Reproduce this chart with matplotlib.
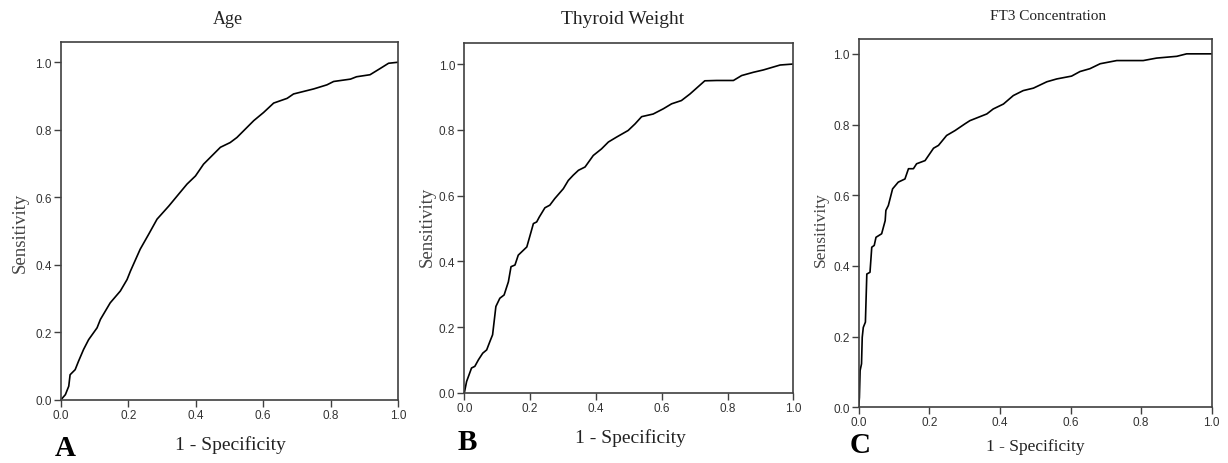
import numpy as np
import matplotlib
matplotlib.use("Agg")
from matplotlib import pyplot as plt

# ROC curve points (1 - specificity, sensitivity)
age_fpr = [0, 0.013, 0.023, 0.027, 0.042, 0.052, 0.067, 0.082, 0.107, 0.117, 0.146, 0.176,
           0.196, 0.206, 0.235, 0.260, 0.285, 0.320, 0.349, 0.374, 0.399, 0.423, 0.448,
           0.473, 0.502, 0.522, 0.542, 0.572, 0.601, 0.631, 0.671, 0.690, 0.750, 0.789,
           0.809, 0.859, 0.877, 0.917, 0.948, 0.972, 1.0]
age_tpr = [0, 0.015, 0.040, 0.074, 0.089, 0.114, 0.149, 0.178, 0.213, 0.238, 0.287, 0.322,
           0.356, 0.381, 0.446, 0.490, 0.535, 0.574, 0.609, 0.639, 0.663, 0.698, 0.723,
           0.748, 0.762, 0.777, 0.797, 0.827, 0.851, 0.879, 0.893, 0.906, 0.921, 0.933,
           0.943, 0.950, 0.957, 0.963, 0.982, 0.997, 1.0]

tw_fpr = [0, 0.007, 0.022, 0.032, 0.043, 0.056, 0.068, 0.078, 0.086, 0.096, 0.108, 0.121,
          0.134, 0.142, 0.154, 0.164, 0.190, 0.203, 0.210, 0.220, 0.228, 0.245, 0.260,
          0.275, 0.301, 0.316, 0.331, 0.347, 0.367, 0.392, 0.417, 0.438, 0.463, 0.498,
          0.519, 0.539, 0.574, 0.605, 0.630, 0.660, 0.686, 0.731, 0.767, 0.818, 0.843,
          0.879, 0.909, 0.960, 1.0]
tw_tpr = [0, 0.035, 0.076, 0.081, 0.101, 0.121, 0.131, 0.157, 0.177, 0.263, 0.288, 0.298,
          0.338, 0.384, 0.389, 0.419, 0.444, 0.490, 0.515, 0.520, 0.535, 0.563, 0.571,
          0.591, 0.621, 0.646, 0.662, 0.677, 0.687, 0.722, 0.742, 0.763, 0.778, 0.798,
          0.818, 0.840, 0.848, 0.864, 0.879, 0.889, 0.909, 0.949, 0.950, 0.950, 0.965,
          0.975, 0.982, 0.997, 1.0]

ft3_fpr = [0, 0.002, 0.004, 0.008, 0.010, 0.013, 0.019, 0.023, 0.032, 0.037, 0.044, 0.049,
           0.065, 0.075, 0.077, 0.084, 0.096, 0.112, 0.131, 0.141, 0.155, 0.164, 0.188,
           0.212, 0.226, 0.249, 0.273, 0.301, 0.315, 0.363, 0.381, 0.410, 0.438, 0.466,
           0.495, 0.533, 0.561, 0.603, 0.627, 0.655, 0.684, 0.731, 0.806, 0.844, 0.901,
           0.929, 1.0]
ft3_tpr = [0, 0.028, 0.104, 0.123, 0.198, 0.226, 0.241, 0.377, 0.382, 0.453, 0.458, 0.481,
           0.491, 0.528, 0.557, 0.571, 0.618, 0.637, 0.646, 0.675, 0.675, 0.689, 0.698,
           0.733, 0.741, 0.769, 0.783, 0.802, 0.811, 0.830, 0.844, 0.858, 0.882, 0.896,
           0.903, 0.921, 0.929, 0.937, 0.950, 0.958, 0.972, 0.981, 0.981, 0.988, 0.993,
           1.0, 1.0]

titles = ["Age", "Thyroid Weight", "FT3 Concentration"]
letters = ["A", "B", "C"]
ticks = [0.0, 0.2, 0.4, 0.6, 0.8, 1.0]

W, H = 1228, 464
fig = plt.figure(figsize=(W / 100, H / 100), dpi=100)

def px(x, y):
    return x / W, 1 - y / H

# axes boxes in pixels: left, top, right, bottom
boxes = [(61, 43, 398, 400.7), (464.3, 44.3, 793.3, 394), (858.7, 40, 1211.7, 408.3)]
ytops = [1.06, 1.063, 1.042]
curves = [(age_fpr, age_tpr), (tw_fpr, tw_tpr), (ft3_fpr, ft3_tpr)]

title_pos = [(228, 20, 13), (623, 19, 14), (1048, 16, 11)]
ylab_pos = [(20, 233, 13.5), (427, 227, 13.5), (821, 230, 12.5)]
xlab_pos = [(230, 445, 14), (630, 438, 14), (1035, 447, 12.5)]
letter_pos = [(65, 449), (467, 443), (860, 446)]

serif = "Liberation Serif"
grey = "#404040"

for i in range(3):
    l, t, r, b = boxes[i]
    ax = fig.add_axes([l / W, 1 - b / H, (r - l) / W, (b - t) / H])
    ax.plot(curves[i][0], curves[i][1], color="black", lw=1.2)
    ax.set_xlim(0, 1)
    ax.set_ylim(0, ytops[i])
    ax.set_xticks(ticks)
    ax.set_yticks(ticks)
    ax.set_xticklabels(["%.1f" % v for v in ticks])
    ax.set_yticklabels(["%.1f" % v for v in ticks])
    ax.tick_params(direction="out", length=5, width=1, color=grey, labelsize=8.5,
                   labelcolor="#333333", pad=1.5)
    for lab in ax.get_xticklabels() + ax.get_yticklabels():
        lab.set_family("Liberation Sans")
    for s in ax.spines.values():
        s.set_color(grey)
        s.set_linewidth(1.2)

    x, y, fs = title_pos[i]
    fig.text(*px(x, y), titles[i], ha="center", va="center", fontsize=fs,
             family=serif, color="#222222")
    x, y, fs = ylab_pos[i]
    fig.text(*px(x, y), "Sensitivity", ha="center", va="center", rotation=90,
             fontsize=fs, family=serif, color="#444444")
    x, y, fs = xlab_pos[i]
    fig.text(*px(x, y), "1 - Specificity", ha="center", va="center",
             fontsize=fs, family=serif, color="#222222")
    fig.text(*px(*letter_pos[i]), letters[i], ha="center", va="center",
             fontsize=21, fontweight="bold", family=serif, color="black")

fig.savefig("out.png", dpi=100)
